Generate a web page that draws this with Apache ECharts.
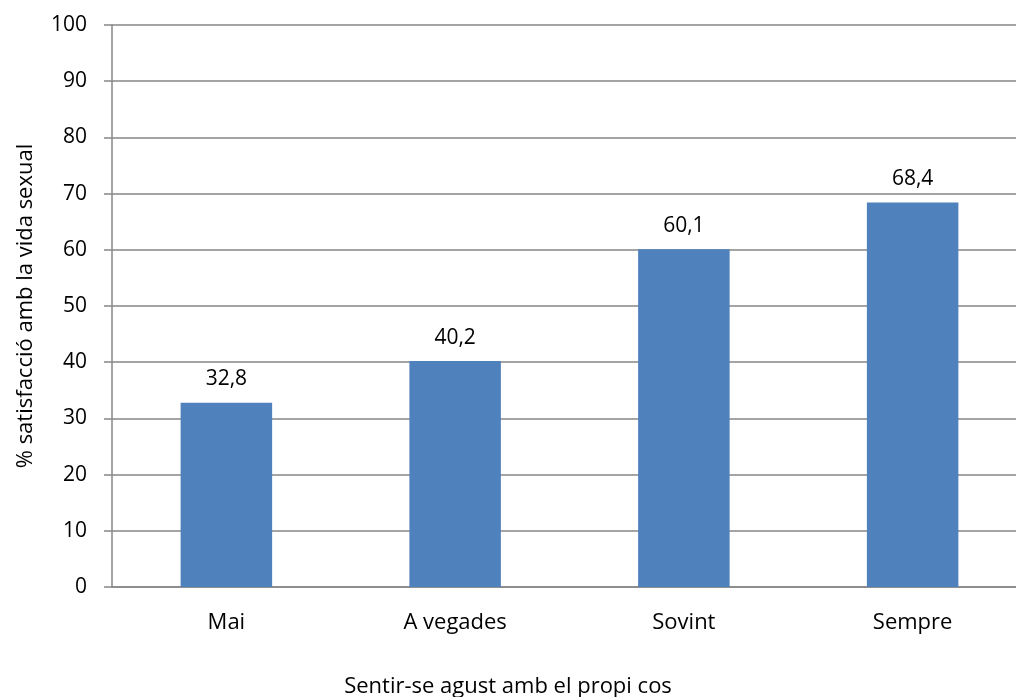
<!DOCTYPE html>
<html><head><meta charset="utf-8">
<script src="https://cdn.jsdelivr.net/npm/echarts@6/dist/echarts.min.js"></script>
<style>html,body{margin:0;padding:0;background:#fff}#c{width:1016px;height:697px}</style>
</head><body><div id="c"></div>
<script>
const categories = ['Mai', 'A vegades', 'Sovint', 'Sempre'];
const values = [32.8, 40.2, 60.1, 68.4];
const yTicks = [0, 10, 20, 30, 40, 50, 60, 70, 80, 90, 100];
const yName = '% satisfacció amb la vida sexual';
const xName = 'Sentir-se agust amb el propi cos';

const FONT = '"Open Sans", sans-serif';
const FS = 21;
const FS2 = 22;
const chart = echarts.init(document.getElementById('c'), null, {renderer: 'canvas'});
chart.setOption({
  animation: false,
  backgroundColor: '#fff',
  grid: {left: 112, top: 25, bottom: 110, width: 915, containLabel: false, outerBoundsMode: 'none'},
  title: {
    text: xName, left: 'center', top: 671,
    textStyle: {fontFamily: FONT, fontSize: FS2, fontWeight: 'normal', color: '#000'}
  },
  xAxis: {
    type: 'category', data: categories,
    axisLine: {lineStyle: {color: '#868686', width: 1.5}},
    axisTick: {show: false},
    axisLabel: {fontFamily: FONT, fontSize: FS2, color: '#000', margin: 25}
  },
  yAxis: {
    type: 'value', min: yTicks[0], max: yTicks[yTicks.length - 1], interval: 10,
    name: yName, nameLocation: 'middle', nameGap: 75, nameRotate: 90,
    nameTextStyle: {fontFamily: FONT, fontSize: FS2, color: '#000'},
    axisLine: {show: true, lineStyle: {color: '#868686', width: 1.5}},
    axisTick: {show: true, length: 8, lineStyle: {color: '#868686', width: 1.5}},
    splitLine: {lineStyle: {color: '#868686', width: 1.5}},
    axisLabel: {fontFamily: FONT, fontSize: FS, color: '#000', margin: 25}
  },
  series: [{
    type: 'bar', data: values, barWidth: '40%',
    itemStyle: {color: '#4F81BD'},
    label: {
      show: true, position: 'top', distance: 13,
      fontFamily: FONT, fontSize: FS, color: '#000',
      formatter: p => String(p.value).replace('.', ',')
    }
  }]
});
</script></body></html>
